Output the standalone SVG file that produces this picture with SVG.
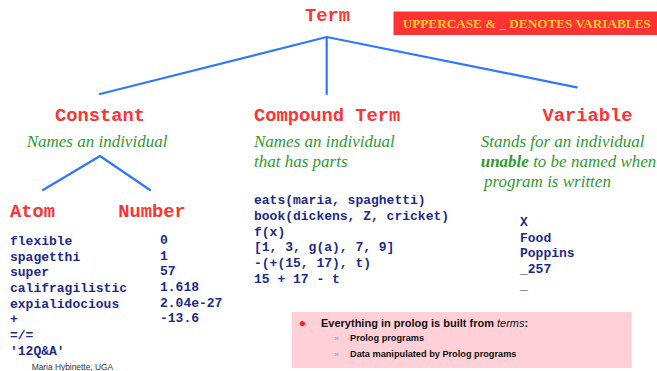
<svg xmlns="http://www.w3.org/2000/svg" width="657" height="371" viewBox="0 0 657 371">
  <style>
    .head { font-family: "Liberation Mono", "Courier New", monospace; font-weight: bold; font-size: 18.75px; fill: #ff3333; }
    .desc { font-family: "Liberation Serif", "Times New Roman", serif; font-style: italic; font-size: 17px; fill: #2f9a2f; }
    .code { font-family: "Liberation Mono", "Courier New", monospace; font-weight: bold; font-size: 13px; fill: #1c2a8c; }
    .edge { stroke: #2f77ff; stroke-width: 2.2; fill: none; stroke-linecap: round; stroke-linejoin: round; }
    .note { font-family: "Liberation Sans", Arial, sans-serif; font-weight: bold; fill: #111; }
  </style>
  <rect width="657" height="371" fill="#ffffff"/>

  <!-- tree connectors -->
  <g id="connectors">
    <polyline class="edge" points="100,94 326.7,37 576.7,87.3"/>
    <line class="edge" x1="326.7" y1="37" x2="326.7" y2="94"/>
    <polyline class="edge" points="43,190 100,156 150,190"/>
  </g>

  <!-- banner -->
  <g id="banner">
    <rect x="393.5" y="11.5" width="263.5" height="23.5" fill="#ff3333"/>
    <text x="402.7" y="28" font-family="Liberation Serif, 'Times New Roman', serif" font-weight="bold" font-size="12.5" fill="#ffcc33" textLength="248" lengthAdjust="spacingAndGlyphs">UPPERCASE &amp; _ DENOTES VARIABLES</text>
  </g>

  <g id="term">
    <text class="head" x="327.5" y="21" text-anchor="middle">Term</text>
  </g>

  <g id="constant">
    <text class="head" x="100" y="120.5" text-anchor="middle">Constant</text>
    <text class="desc" x="97" y="146.7" text-anchor="middle">Names an individual</text>
  </g>

  <g id="compound">
    <text class="head" x="254" y="120.5">Compound Term</text>
    <text class="desc" x="254" y="146.7">Names an individual</text>
    <text class="desc" x="254" y="166.7">that has parts</text>
    <text class="code" x="254" y="204.3">eats(maria, spaghetti)</text>
    <text class="code" x="254" y="220">book(dickens, Z, cricket)</text>
    <text class="code" x="254" y="235.7">f(x)</text>
    <text class="code" x="254" y="251.3">[1, 3, g(a), 7, 9]</text>
    <text class="code" x="254" y="267">-(+(15, 17), t)</text>
    <text class="code" x="254" y="282.6">15 + 17 - t</text>
  </g>

  <g id="variable">
    <text class="head" x="587.5" y="120.5" text-anchor="middle">Variable</text>
    <text class="desc" x="480.7" y="146.7">Stands for an individual</text>
    <text class="desc" x="480.7" y="166.7"><tspan font-weight="bold">unable</tspan> to be named when</text>
    <text class="desc" x="484" y="187.3">program is written</text>
    <text class="code" x="520" y="226">X</text>
    <text class="code" x="520" y="241.7">Food</text>
    <text class="code" x="520" y="257.4">Poppins</text>
    <text class="code" x="520" y="273">_257</text>
    <text class="code" x="520" y="288.7">_</text>
  </g>

  <g id="atom">
    <text class="head" x="10" y="217">Atom</text>
    <text class="code" x="10" y="245">flexible</text>
    <text class="code" x="10" y="260.7">spagetthi</text>
    <text class="code" x="10" y="276.3">super</text>
    <text class="code" x="10" y="292">califragilistic</text>
    <text class="code" x="10" y="307.7">expialidocious</text>
    <text class="code" x="10" y="323.3">+</text>
    <text class="code" x="10" y="339">=/=</text>
    <text class="code" x="10" y="354.7">'12Q&amp;A'</text>
  </g>

  <g id="number">
    <text class="head" x="118.3" y="217">Number</text>
    <text class="code" x="160" y="244">0</text>
    <text class="code" x="160" y="259.7">1</text>
    <text class="code" x="160" y="275.4">57</text>
    <text class="code" x="160" y="291">1.618</text>
    <text class="code" x="160" y="306.7">2.04e-27</text>
    <text class="code" x="160" y="322.4">-13.6</text>
  </g>

  <!-- summary box -->
  <g id="summary">
    <rect x="291.7" y="312" width="340" height="56" fill="#ffd0d8"/>
    <circle cx="302.3" cy="323.5" r="2.6" fill="#ff2222"/>
    <text class="note" x="321" y="326.7" font-size="11">Everything in prolog is built from <tspan font-weight="normal" font-style="italic">terms</tspan>:</text>
    <text x="334.3" y="341" font-family="Liberation Sans, Arial, sans-serif" font-size="8" fill="#7799ee">»</text>
    <text class="note" x="350" y="341" font-size="9.2">Prolog programs</text>
    <text x="334.3" y="356.5" font-family="Liberation Sans, Arial, sans-serif" font-size="8" fill="#7799ee">»</text>
    <text class="note" x="350" y="356.5" font-size="9.2">Data manipulated by Prolog programs</text>
  </g>

  <g id="footer">
    <text x="31.7" y="369.5" font-family="Liberation Sans, Arial, sans-serif" font-size="8.4" fill="#333333">Maria Hybinette, UGA</text>
  </g>
</svg>
